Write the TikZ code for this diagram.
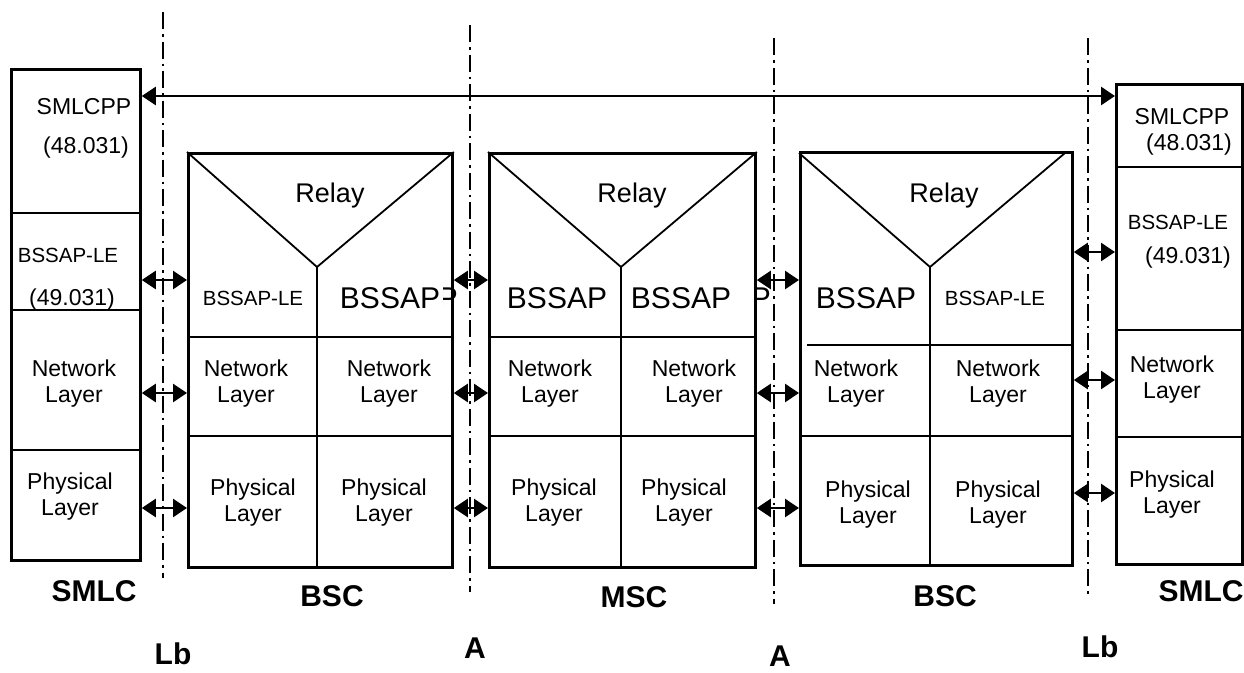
\documentclass[tikz,border=0pt]{standalone}
\usepackage{fontspec}
\setmainfont{Liberation Sans}
\usetikzlibrary{arrows.meta}
\begin{document}
\begin{tikzpicture}[x=1pt,y=-1pt,
  box/.style={draw, line width=2.8pt, inner sep=0pt, anchor=north west},
  div/.style={line width=1.8pt},
  iface/.style={line width=2pt, dash pattern=on 17pt off 5pt on 2.5pt off 5pt},
  arr/.style={line width=2.6pt, {Triangle[length=14pt,width=18pt]}-{Triangle[length=14pt,width=18pt]}},
  lbl/.style={align=center, inner sep=0pt, font=\fontsize{23}{26}\selectfont},
  small/.style={align=center, inner sep=0pt, font=\fontsize{20.5}{26}\selectfont},
  big/.style={inner sep=0pt, font=\fontsize{30}{32}\selectfont},
  relay/.style={inner sep=0pt, font=\fontsize{27}{30}\selectfont},
  entname/.style={inner sep=0pt, font=\bfseries\fontsize{30}{31}\selectfont},
]
\useasboundingbox (0,0) rectangle (1244,672);

% interface lines
\coordinate (l1t) at (163,12);  \coordinate (l1b) at (163,578);
\coordinate (l2t) at (470,25);  \coordinate (l2b) at (470,592);
\coordinate (l3t) at (774,38);  \coordinate (l3b) at (774,604);
\coordinate (l4t) at (1088,38); \coordinate (l4b) at (1088,594);
\draw[iface] (l1t) -- (l1b);
\draw[iface] (l2t) -- (l2b);
\draw[iface] (l3t) -- (l3b);
\draw[iface] (l4t) -- (l4b);

% boxes
\node[box, minimum width=129pt, minimum height=491pt] (smlcL) at (10,68) {};
\node[box, minimum width=264pt, minimum height=414pt] (bsc1) at (187,152) {};
\node[box, minimum width=266pt, minimum height=414pt] (msc) at (488,152) {};
\node[box, minimum width=272pt, minimum height=413pt] (bsc2) at (799,151) {};
\node[box, minimum width=126pt, minimum height=480pt] (smlcR) at (1115,83) {};

% left SMLC dividers
\draw[div] (smlcL.west |- 0,213) -- (smlcL.east |- 0,213);
\draw[div] (smlcL.west |- 0,310) -- (smlcL.east |- 0,310);
\draw[div] (smlcL.west |- 0,450) -- (smlcL.east |- 0,450);
% right SMLC dividers
\draw[div] (smlcR.west |- 0,167) -- (smlcR.east |- 0,167);
\draw[div] (smlcR.west |- 0,330) -- (smlcR.east |- 0,330);
\draw[div] (smlcR.west |- 0,437) -- (smlcR.east |- 0,437);

% BSC1 internals
\coordinate (a1) at (317,267);
\draw[div] (bsc1.north west) -- (a1) -- (bsc1.north east);
\draw[div] (a1) -- (a1 |- bsc1.south);
\draw[div] (bsc1.west |- 0,337) -- (bsc1.east |- 0,337);
\draw[div] (bsc1.west |- 0,436) -- (bsc1.east |- 0,436);
% MSC internals
\coordinate (a2) at (621,267);
\draw[div] (msc.north west) -- (a2) -- (msc.north east);
\draw[div] (a2) -- (a2 |- msc.south);
\draw[div] (msc.west |- 0,337) -- (msc.east |- 0,337);
\draw[div] (msc.west |- 0,436) -- (msc.east |- 0,436);
% BSC2 internals
\coordinate (a3) at (930,267);
\coordinate (c3l) at (799,153); \coordinate (c3r) at (1065,153);
\draw[div] (c3l) -- (a3) -- (c3r);
\draw[div] (a3) -- (a3 |- bsc2.south);
\draw[div] (807,345) -- (bsc2.east |- 0,345);
\draw[div] (802,436) -- (bsc2.east |- 0,436);

% top arrow
\draw[arr] (smlcL.east |- 0,96) -- (smlcR.west |- 0,96);

% layer arrows
\foreach \y in {280,393,508}{
  \draw[arr] (smlcL.east |- 0,\y) -- (bsc1.west |- 0,\y);
  \draw[arr] (bsc1.east |- 0,\y) -- (msc.west |- 0,\y);
  \draw[arr] (msc.east |- 0,\y) -- (bsc2.west |- 0,\y);
}
\foreach \y in {252,380,493}{
  \draw[arr] (bsc2.east |- 0,\y) -- (smlcR.west |- 0,\y);
}

% left SMLC texts
\node[lbl] (lt1) at (84,107) {SMLCPP};
\node[lbl] (lt2) at (86,148) {(48.031)};
\node[small] (lt3) at (68,255) {BSSAP-LE};
\node[lbl] (lt4) at (72,300) {(49.031)};
\node[lbl] (lt5) at (74,384) {Network\\Layer};
\node[lbl] (lt6) at (70,497) {Physical\\Layer};

% right SMLC texts
\node[lbl] (rt1) at (1182,117) {SMLCPP};
\node[lbl] (rt2) at (1189,145) {(48.031)};
\node[small] (rt3) at (1178,222) {BSSAP-LE};
\node[lbl] (rt4) at (1188,258) {(49.031)};
\node[lbl] (rt5) at (1172,380) {Network\\Layer};
\node[lbl] (rt6) at (1172,495) {Physical\\Layer};

% BSC1 texts
\node[relay] (b1r) at (330,196) {Relay};
\node[small] (b1a) at (253,298) {BSSAP-LE};
\begin{scope}
  \clip (443,270) rectangle (456,320);
  \node[big, anchor=east] (b1p) at (458,298) {P};
\end{scope}
\node[big] (b1b) at (390,298) {BSSAP};
\node[lbl] (b1c) at (246,384) {Network\\Layer};
\node[lbl] (b1d) at (389,384) {Network\\Layer};
\node[lbl] (b1e) at (253,503) {Physical\\Layer};
\node[lbl] (b1f) at (384,503) {Physical\\Layer};

% MSC texts
\node[relay] (mr) at (632,196) {Relay};
\node[big] (ma) at (557,298) {BSSAP};
\node[big] (mb) at (681,298) {BSSAP};
\begin{scope}
  \clip (755,270) rectangle (775,320);
  \node[big, anchor=east] (mp) at (771,298) {P};
\end{scope}
\node[lbl] (mc) at (550,384) {Network\\Layer};
\node[lbl] (md) at (694,384) {Network\\Layer};
\node[lbl] (me) at (554,503) {Physical\\Layer};
\node[lbl] (mf) at (684,503) {Physical\\Layer};

% BSC2 texts
\node[relay] (b2r) at (944,196) {Relay};
\node[big] (b2a) at (866,298) {BSSAP};
\node[small] (b2b) at (995,298) {BSSAP-LE};
\node[lbl] (b2c) at (856,384) {Network\\Layer};
\node[lbl] (b2d) at (998,384) {Network\\Layer};
\node[lbl] (b2e) at (868,505) {Physical\\Layer};
\node[lbl] (b2f) at (998,505) {Physical\\Layer};

% entity names
\node[entname] (n1) at (94,591) {SMLC};
\node[entname] (n2) at (332,596) {BSC};
\node[entname] (n3) at (634,597) {MSC};
\node[entname] (n4) at (945,596) {BSC};
\node[entname] (n5) at (1201,591) {SMLC};
\node[entname] (n6) at (173,654) {Lb};
\node[entname] (n7) at (475,648) {A};
\node[entname] (n8) at (780,656) {A};
\node[entname] (n9) at (1100,647) {Lb};
\end{tikzpicture}
\end{document}
